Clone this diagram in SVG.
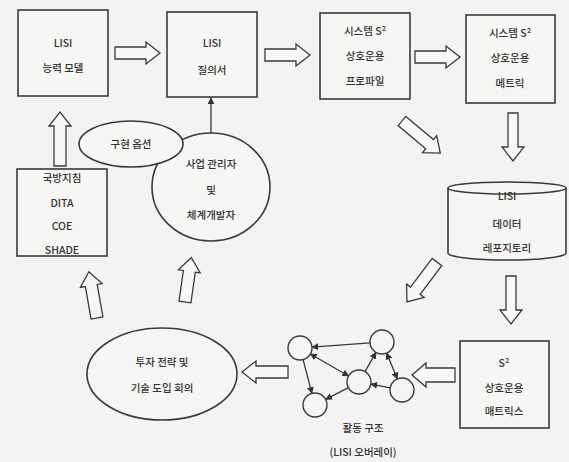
<svg xmlns="http://www.w3.org/2000/svg" width="569" height="462" viewBox="0 0 569 462">
<style>
.bg{fill:#f3f3f1}
.box{fill:#f6f6f4;stroke:#3a3a3a;stroke-width:1.6}
.ar{fill:#f8f8f6;stroke:#3a3a3a;stroke-width:1.3;stroke-linejoin:miter}
.ln{stroke:#3a3a3a;stroke-width:1.3;fill:none}
.nd{fill:#f6f6f4;stroke:#3a3a3a;stroke-width:1.4}
text{font-family:"Noto Sans CJK KR","Noto Sans",sans-serif;font-size:10.5px;fill:#333;text-anchor:middle;font-weight:500}
</style>
<defs>
<marker id="tri" viewBox="0 0 10 10" refX="9" refY="5" markerWidth="7" markerHeight="7" orient="auto-start-reverse" markerUnits="userSpaceOnUse">
<path d="M0,0 L10,5 L0,10 Z" fill="#333"/>
</marker>
</defs>
<rect class="bg" x="0" y="0" width="569" height="462"/>

<g id="connectors">
<path class="ar" transform="translate(115,53)" d="M0,-6 H31 V-11 L45,0 L31,11 V6 H0 Z"/>
<path class="ar" transform="translate(265,55)" d="M0,-6 H31 V-11 L45,0 L31,11 V6 H0 Z"/>
<path class="ar" transform="translate(415,57)" d="M0,-6 H31 V-11 L45,0 L31,11 V6 H0 Z"/>
<path class="ar" transform="translate(402,121) rotate(40)" d="M0,-6 H36 V-11 L50,0 L36,11 V6 H0 Z"/>
<path class="ar" transform="translate(513,113) rotate(90)" d="M0,-5 H34 V-11 L48,0 L34,11 V5 H0 Z"/>
<path class="ar" transform="translate(511,276) rotate(90)" d="M0,-5 H34 V-11 L48,0 L34,11 V5 H0 Z"/>
<path class="ar" transform="translate(437,262) rotate(127)" d="M0,-6 H36 V-11 L50,0 L36,11 V6 H0 Z"/>
<path class="ar" transform="translate(455,375) rotate(180)" d="M0,-7 H29 V-12 L43,0 L29,12 V7 H0 Z"/>
<path class="ar" transform="translate(288,372) rotate(180)" d="M0,-6 H32 V-11 L46,0 L32,11 V6 H0 Z"/>
<path class="ar" transform="translate(97,318) rotate(260)" d="M0,-6 H33 V-11 L47,0 L33,11 V6 H0 Z"/>
<path class="ar" transform="translate(185,302) rotate(-82)" d="M0,-6 H31 V-11 L45,0 L31,11 V6 H0 Z"/>
<path class="ar" transform="translate(60,166) rotate(-90)" d="M0,-6 H40 V-11 L54,0 L40,11 V6 H0 Z"/>
<line class="ln" x1="211" y1="134" x2="211" y2="98" marker-end="url(#tri)"/>
<line class="ln" x1="370" y1="342.9" x2="312" y2="347.1" marker-end="url(#tri)"/>
<line class="ln" x1="310.4" y1="354" x2="348.6" y2="376" marker-start="url(#tri)" marker-end="url(#tri)"/>
<line class="ln" x1="303.1" y1="359.6" x2="311.9" y2="393.4" marker-end="url(#tri)"/>
<line class="ln" x1="348.4" y1="387.6" x2="325.6" y2="399.4" marker-end="url(#tri)"/>
<line class="ln" x1="365" y1="371.6" x2="376" y2="352.4" marker-end="url(#tri)"/>
<line class="ln" x1="386.6" y1="353.1" x2="397.4" y2="378.9" marker-start="url(#tri)" marker-end="url(#tri)"/>
<line class="ln" x1="390.2" y1="387.8" x2="370.8" y2="384.2" marker-end="url(#tri)"/>
</g>

<g id="lisi-capability-model">
<rect class="box" x="18" y="10" width="90" height="86"/>
<text x="63" y="47">LISI</text>
<text x="63" y="72">능력 모델</text>
</g>

<g id="lisi-questionnaire">
<rect class="box" x="167" y="12" width="90" height="85"/>
<text x="212" y="47">LISI</text>
<text x="212" y="74">질의서</text>
</g>

<g id="s2-profile">
<rect class="box" x="320" y="13" width="90" height="86"/>
<text x="365" y="35">시스템 S²</text>
<text x="365" y="60">상호운용</text>
<text x="365" y="85">프로파일</text>
</g>

<g id="s2-metric">
<rect class="box" x="466" y="15" width="89" height="88"/>
<text x="510" y="37">시스템 S²</text>
<text x="510" y="62">상호운용</text>
<text x="510" y="87">메트릭</text>
</g>

<g id="lisi-repository">
<path class="box" d="M448,188 V253 A59,7 0 0 0 566,253 V188"/>
<ellipse class="box" cx="507" cy="188" rx="59" ry="6"/>
<text x="507" y="200">LISI</text>
<text x="507" y="228">데이터</text>
<text x="507" y="252">레포지토리</text>
</g>

<g id="s2-matrix">
<rect class="box" x="460" y="341" width="89" height="87"/>
<text x="504" y="367">S²</text>
<text x="504" y="392">상호운용</text>
<text x="504" y="415">매트릭스</text>
</g>

<g id="activity-structure">
<circle class="nd" cx="300" cy="348" r="12"/>
<circle class="nd" cx="382" cy="342" r="12"/>
<circle class="nd" cx="359" cy="382" r="12"/>
<circle class="nd" cx="402" cy="390" r="12"/>
<circle class="nd" cx="315" cy="405" r="12"/>
<text x="363" y="432">활동 구조</text>
<text x="363" y="456">(LISI 오버레이)</text>
</g>

<g id="investment-meeting">
<ellipse class="box" cx="162" cy="374" rx="75" ry="46"/>
<text x="162" y="366">투자 전략 및</text>
<text x="162" y="392">기술 도입 회의</text>
</g>

<g id="dod-guidance">
<rect class="box" x="17" y="169" width="90" height="87"/>
<text x="62" y="182">국방지침</text>
<text x="62" y="207">DITA</text>
<text x="62" y="230">COE</text>
<text x="62" y="254">SHADE</text>
</g>

<g id="pm-developer">
<ellipse class="box" cx="211" cy="187" rx="59" ry="54"/>
<text x="211" y="168">사업 관리자</text>
<text x="211" y="194">및</text>
<text x="211" y="219">체계개발자</text>
</g>

<g id="implementation-options">
<ellipse class="box" cx="131" cy="144" rx="52" ry="23"/>
<text x="131" y="148">구현 옵션</text>
</g>
</svg>
